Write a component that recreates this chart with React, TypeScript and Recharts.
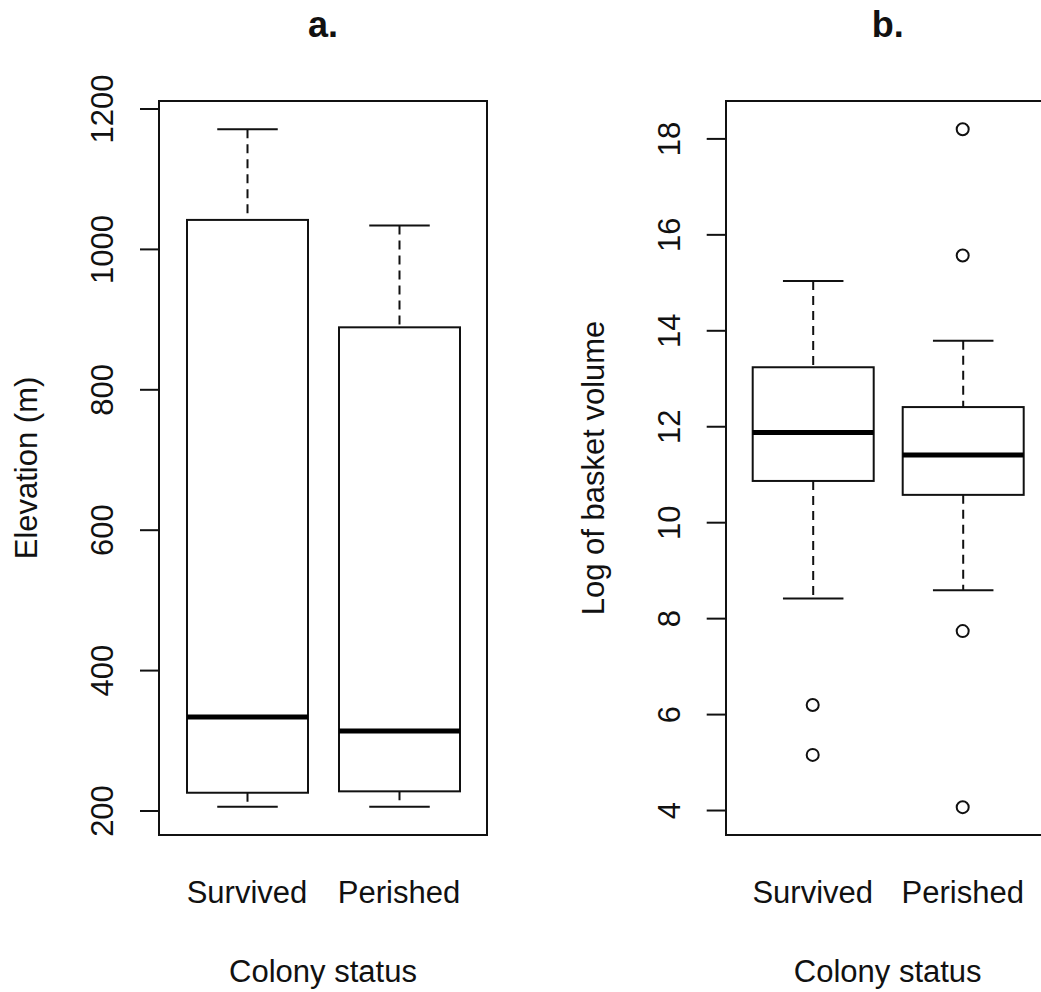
import { Bar, ComposedChart, Scatter, XAxis, YAxis } from "recharts";

const categories = ["Survived", "Perished"];

// a. elevation (m)
const elevLow = [206, 206];
const elevQ1 = [226, 228];
const elevMedian = [334, 314];
const elevQ3 = [1042, 889];
const elevHigh = [1171, 1034];
const elevTicks = [200, 400, 600, 800, 1000, 1200];

// b. log of basket volume
const volLow = [8.42, 8.59];
const volQ1 = [10.87, 10.58];
const volMedian = [11.88, 11.41];
const volQ3 = [13.24, 12.41];
const volHigh = [15.04, 13.79];
const volOutlierCats = ["Survived", "Survived", "Perished", "Perished", "Perished", "Perished"];
const volOutliers = [6.2, 5.16, 18.2, 15.57, 7.74, 4.07];
const volTicks = [4, 6, 8, 10, 12, 14, 16, 18];

const FONT = '"Liberation Sans", Arial, sans-serif';
const INK = "#111";

const buildRows = (lo: number[], q1: number[], med: number[], q3: number[], hi: number[]) =>
  categories.map((name, i) => ({ name, lo: lo[i], q1: q1[i], med: med[i], q3: q3[i], hi: hi[i], box: [q1[i], q3[i]] }));

const elevRows = buildRows(elevLow, elevQ1, elevMedian, elevQ3, elevHigh);
const volRows = buildRows(volLow, volQ1, volMedian, volQ3, volHigh);
const volOutlierRows = volOutliers.map((v, i) => ({ name: volOutlierCats[i], v }));

function BoxShape(props: any) {
  const { x, y, width, height } = props;
  const d = props.payload ?? props;
  const top = Math.min(y, y + height);
  const h = Math.abs(height);
  // pixels per unit, taken from the bar the value axis drew for [q1, q3]
  const ppu = h / (d.q3 - d.q1);
  const toY = (v: number) => top + (d.q3 - v) * ppu;
  const cx = x + width / 2;
  const cap = width / 4;
  return (
    <g>
      <line x1={cx} x2={cx} y1={toY(d.hi)} y2={toY(d.q3)} stroke={INK} strokeWidth={2} strokeDasharray="9 6" />
      <line x1={cx} x2={cx} y1={toY(d.q1)} y2={toY(d.lo)} stroke={INK} strokeWidth={2} strokeDasharray="9 6" />
      <line x1={cx - cap} x2={cx + cap} y1={toY(d.hi)} y2={toY(d.hi)} stroke={INK} strokeWidth={2} />
      <line x1={cx - cap} x2={cx + cap} y1={toY(d.lo)} y2={toY(d.lo)} stroke={INK} strokeWidth={2} />
      <rect x={x} y={top} width={width} height={h} fill="#fff" stroke={INK} strokeWidth={2} />
      <line x1={x} x2={x + width} y1={toY(d.med)} y2={toY(d.med)} stroke="#000" strokeWidth={5} />
    </g>
  );
}

function Outlier(props: any) {
  return <circle cx={props.cx} cy={props.cy} r={6} fill="none" stroke={INK} strokeWidth={2} />;
}

function YTick(props: any) {
  const { x, y, payload } = props;
  const bx = x - 27;
  return (
    <text x={bx} y={y} transform={`rotate(-90, ${bx}, ${y})`} textAnchor="middle" fontSize={31} fill={INK} fontFamily={FONT}>
      {payload.value}
    </text>
  );
}

function XTick(props: any) {
  const { x, y, payload } = props;
  return (
    <text x={x} y={y + 60} textAnchor="middle" fontSize={31} fill={INK} fontFamily={FONT}>
      {payload.value}
    </text>
  );
}

const xLabel = (props: any) => {
  const vb = props.viewBox;
  return (
    <text x={vb.x + vb.width / 2} y={982} textAnchor="middle" fontSize={31} fill={INK} fontFamily={FONT}>
      Colony status
    </text>
  );
};

const yLabel = (text: string) => (props: any) => {
  const vb = props.viewBox;
  const bx = vb.x + vb.width - 122;
  const cy = vb.y + vb.height / 2;
  return (
    <text x={bx} y={cy} transform={`rotate(-90, ${bx}, ${cy})`} textAnchor="middle" fontSize={31} fill={INK} fontFamily={FONT}>
      {text}
    </text>
  );
};

interface PanelProps {
  rows: any[];
  domain: [number, number];
  ticks: number[];
  label: string;
  left: number;
  plotLeft: number;
  plotRight: number;
  outliers?: Array<{ name: string; v: number }>;
}

function Panel({ rows, domain, ticks, label, left, plotLeft, plotRight, outliers }: PanelProps) {
  const W = 560;
  return (
    <div style={{ position: "absolute", left, top: 0 }}>
      <ComposedChart width={W} height={992} data={rows} margin={{ top: 101, left: plotLeft - 60, right: W - plotRight, bottom: 127 }}>
        <XAxis
          dataKey="name"
          type="category"
          allowDuplicatedCategory={false}
          padding={{ left: 12, right: 12 }}
          axisLine={false}
          tickLine={false}
          tickSize={6}
          tickMargin={2}
          height={30}
          tick={<XTick />}
          label={xLabel}
        />
        <YAxis
          type="number"
          domain={domain}
          ticks={ticks}
          allowDataOverflow
          width={60}
          axisLine={false}
          tickSize={19}
          tickMargin={0}
          tickLine={{ stroke: INK, strokeWidth: 2 }}
          tick={<YTick />}
          label={yLabel(label)}
        />
        <Bar dataKey="box" barSize={121} shape={<BoxShape />} isAnimationActive={false} />
        {outliers && <Scatter data={outliers} dataKey="v" shape={<Outlier />} isAnimationActive={false} />}
      </ComposedChart>
      <div
        style={{
          position: "absolute",
          left: plotLeft - 1,
          top: 100,
          width: plotRight - plotLeft + 2,
          height: 736,
          border: `2px solid ${INK}`,
          boxSizing: "border-box",
          pointerEvents: "none",
        }}
      />
    </div>
  );
}

export default function App() {
  return (
    <div style={{ position: "fixed", left: 0, top: 0, width: 1041, height: 992, overflow: "hidden", background: "#fff", fontFamily: FONT }}>
      <Panel rows={elevRows} domain={[165.8, 1211.4]} ticks={elevTicks} label="Elevation (m)" left={0} plotLeft={159} plotRight={487} />
      <Panel
        rows={volRows}
        domain={[3.49, 18.79]}
        ticks={volTicks}
        label="Log of basket volume"
        left={560}
        plotLeft={165.7}
        plotRight={489.7}
        outliers={volOutlierRows}
      />
      <svg width={1041} height={60} style={{ position: "absolute", left: 0, top: 0 }}>
        <text x={323} y={37} textAnchor="middle" fontSize={36} fontWeight="bold" fill={INK} fontFamily={FONT}>
          a.
        </text>
        <text x={887.7} y={37} textAnchor="middle" fontSize={36} fontWeight="bold" fill={INK} fontFamily={FONT}>
          b.
        </text>
      </svg>
    </div>
  );
}
